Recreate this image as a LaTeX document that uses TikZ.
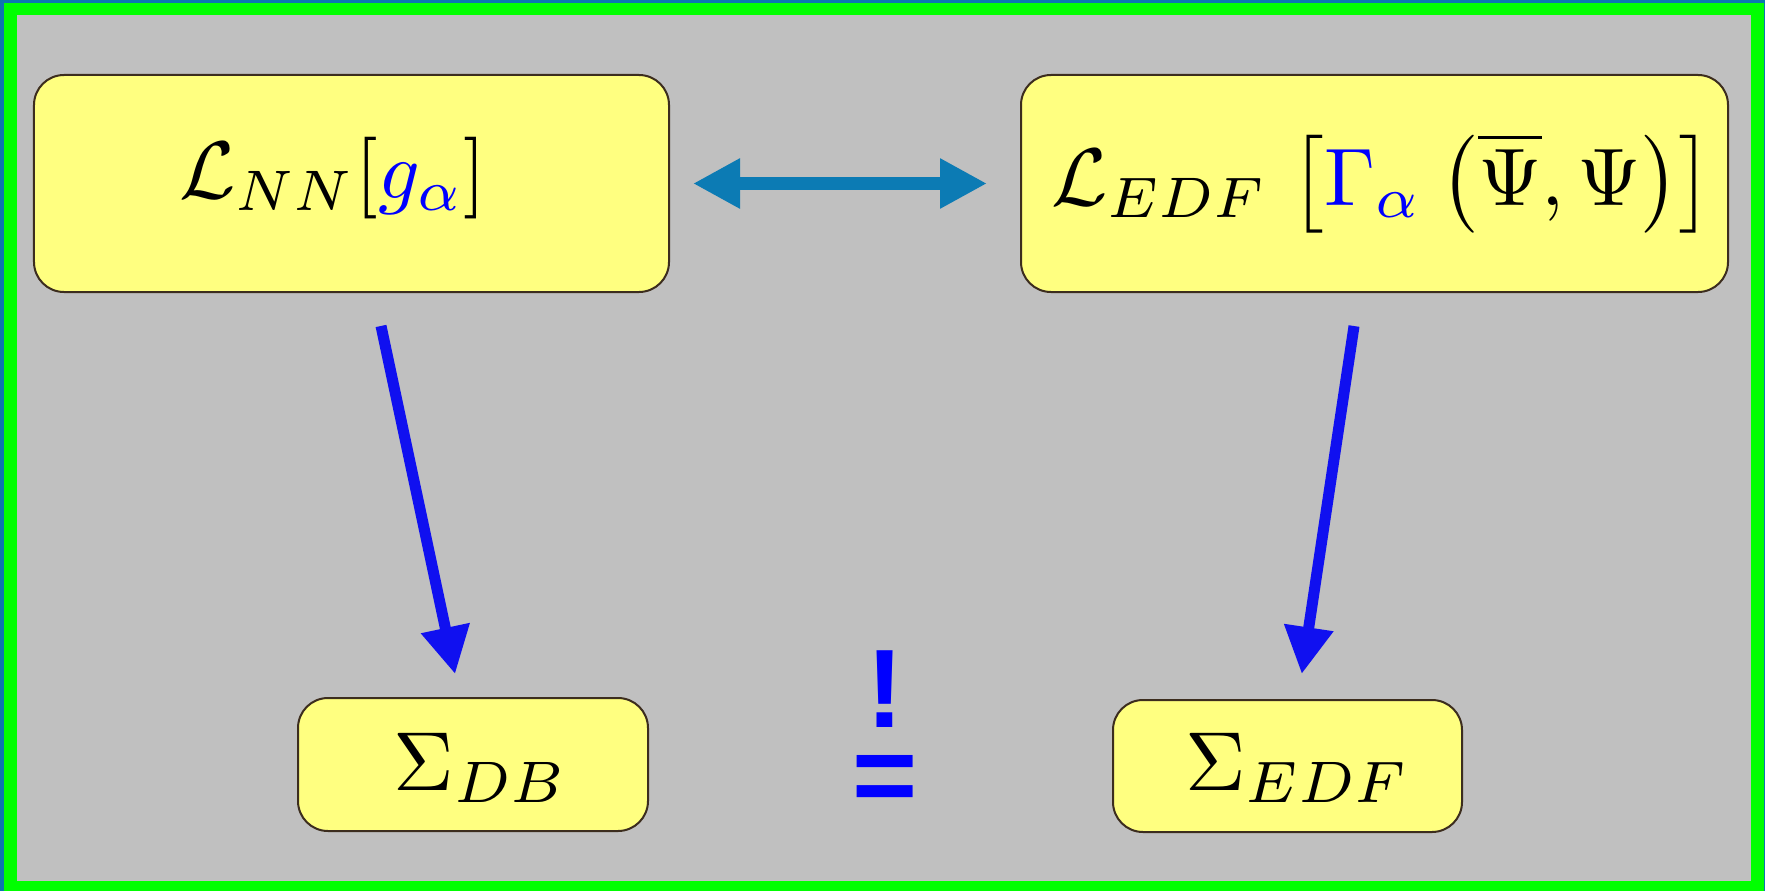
\documentclass[tikz,border=0pt]{standalone}
\usepackage{graphicx}
\usepackage[no-math]{fontspec}
\newfontfamily\bangfont{Liberation Sans}
\usetikzlibrary{arrows.meta}
\definecolor{frameblue}{RGB}{12,118,176}
\definecolor{framegreen}{RGB}{0,255,0}
\definecolor{bggray}{RGB}{192,192,192}
\definecolor{boxfill}{RGB}{255,255,128}
\definecolor{boxdraw}{RGB}{60,45,30}
\definecolor{dblcol}{RGB}{12,123,180}
\definecolor{arrblue}{RGB}{16,16,240}
\definecolor{txtblue}{RGB}{0,0,255}
\tikzset{
  box/.style={draw=boxdraw, line width=2bp, fill=boxfill, rounded corners=30bp, inner sep=0pt},
  mtxt/.style={inner sep=0pt, font=\fontsize{10}{12}\selectfont},
  bang/.style={text=txtblue, inner sep=0pt, font=\bangfont\bfseries\fontsize{112}{130}\selectfont},
  barrow/.style={draw=arrblue, line width=11bp, -{Triangle[length=47bp,width=47bp]}},
  dblarrow/.style={draw=dblcol, line width=13bp, {Triangle[length=47bp,width=47bp]}-{Triangle[length=47bp,width=47bp]}}
}
\begin{document}
\begin{tikzpicture}[x=1bp,y=-1bp]
\useasboundingbox (0,0) rectangle (1765,891);
\fill[frameblue] (0,0) rectangle (1765,891);
\fill[framegreen] (4,3) rectangle (1764,891);
\fill[bggray] (17,15) rectangle (1751,881);

\node[box, minimum width=635bp, minimum height=217bp] (b1) at (351.5,183.5) {};
\node[box, minimum width=707bp, minimum height=217bp] (b2) at (1374.5,183.5) {};
\node[box, minimum width=350bp, minimum height=133bp] (b3) at (473,764.5) {};
\node[box, minimum width=349bp, minimum height=132bp] (b4) at (1287.5,766) {};

\node[mtxt, anchor=base] (t1) at (333,198) {\scalebox{8.2}{$\mathcal{L}_{NN}[{\color{txtblue}g_\alpha}]$}};
\node[mtxt, anchor=base] (t2) at (1382,205) {\scalebox{8.2}{$\mathcal{L}_{EDF}\mkern2mu\left[{\color{txtblue}\Gamma_\alpha}\mkern1mu\left(\overline{\Psi},\Psi\right)\right]$}};
\node[mtxt, anchor=base] (t3) at (481,790) {\scalebox{8.4}{$\Sigma_{DB}$}};
\node[mtxt, anchor=base] (t4) at (1298,790) {\scalebox{8.4}{$\Sigma_{EDF}$}};

\node[bang, anchor=base] (neq) at (885,813) {\ooalign{\hidewidth\raisebox{86bp}{!}\hidewidth\cr=\cr}};

\draw[dblarrow, shorten <=23bp, shorten >=33bp] (b1.east) -- (b2.west);
\draw[barrow, shorten <=33.7bp, shorten >=23.5bp] ([xshift=22.5bp]b1.south) -- ([xshift=-13bp]b3.north);
\draw[barrow, shorten <=33.4bp, shorten >=25.3bp] ([xshift=-15.5bp]b2.south) -- ([xshift=10.5bp]b4.north);
\end{tikzpicture}
\end{document}
